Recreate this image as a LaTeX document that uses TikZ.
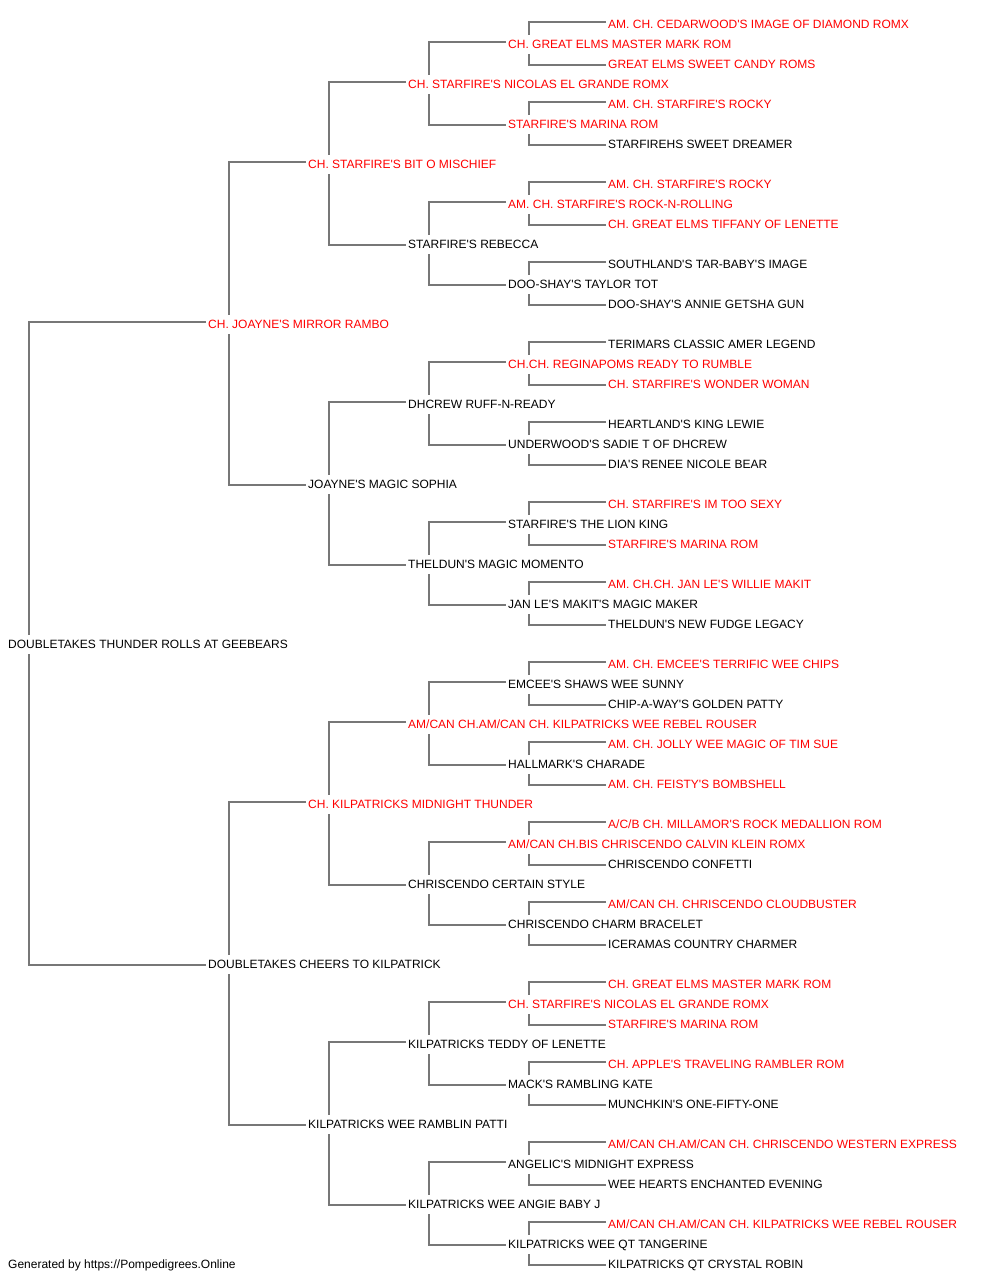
\documentclass[tikz,border=0pt]{standalone}
\usepackage{fontspec}
\setmainfont[Ligatures=TeXOff]{Liberation Sans}
\definecolor{pedred}{RGB}{255,0,0}
\definecolor{linegray}{RGB}{119,119,119}
\pgfdeclarelayer{background}
\pgfsetlayers{background,main}
\begin{document}
\begin{tikzpicture}[x=1pt,y=-1pt,
  nm/.style={anchor=base west,xshift=-1pt,yshift=-1pt,inner xsep=1pt,inner ysep=2pt,fill=white,
    text height=11pt,text depth=3.7pt,font=\fontsize{12pt}{14pt}\selectfont,text=black},
  nmr/.style={nm,text=pedred},
  conn/.style={draw=linegray,line width=1.6pt}]
\useasboundingbox (0,0) rectangle (1000,1280);
% generation 5 at x=608, gen4 508, gen3 408, gen2 308, gen1 208, gen0 8
\node[nmr] (n0) at (608,27.3) {AM. CH. CEDARWOOD'S IMAGE OF DIAMOND ROMX};
\node[nmr] (n1) at (508,47.3) {CH. GREAT ELMS MASTER MARK ROM};
\node[nmr] (n2) at (608,67.3) {GREAT ELMS SWEET CANDY ROMS};
\node[nmr] (n3) at (408,87.3) {CH. STARFIRE'S NICOLAS EL GRANDE ROMX};
\node[nmr] (n4) at (608,107.3) {AM. CH. STARFIRE'S ROCKY};
\node[nmr] (n5) at (508,127.3) {STARFIRE'S MARINA ROM};
\node[nm] (n6) at (608,147.3) {STARFIREHS SWEET DREAMER};
\node[nmr] (n7) at (308,167.3) {CH. STARFIRE'S BIT O MISCHIEF};
\node[nmr] (n8) at (608,187.3) {AM. CH. STARFIRE'S ROCKY};
\node[nmr] (n9) at (508,207.3) {AM. CH. STARFIRE'S ROCK-N-ROLLING};
\node[nmr] (n10) at (608,227.3) {CH. GREAT ELMS TIFFANY OF LENETTE};
\node[nm] (n11) at (408,247.3) {STARFIRE'S REBECCA};
\node[nm] (n12) at (608,267.3) {SOUTHLAND'S TAR-BABY'S IMAGE};
\node[nm] (n13) at (508,287.3) {DOO-SHAY'S TAYLOR TOT};
\node[nm] (n14) at (608,307.3) {DOO-SHAY'S ANNIE GETSHA GUN};
\node[nmr] (n15) at (208,327.3) {CH. JOAYNE'S MIRROR RAMBO};
\node[nm] (n16) at (608,347.3) {TERIMARS CLASSIC AMER LEGEND};
\node[nmr] (n17) at (508,367.3) {CH.CH. REGINAPOMS READY TO RUMBLE};
\node[nmr] (n18) at (608,387.3) {CH. STARFIRE'S WONDER WOMAN};
\node[nm] (n19) at (408,407.3) {DHCREW RUFF-N-READY};
\node[nm] (n20) at (608,427.3) {HEARTLAND'S KING LEWIE};
\node[nm] (n21) at (508,447.3) {UNDERWOOD'S SADIE T OF DHCREW};
\node[nm] (n22) at (608,467.3) {DIA'S RENEE NICOLE BEAR};
\node[nm] (n23) at (308,487.3) {JOAYNE'S MAGIC SOPHIA};
\node[nmr] (n24) at (608,507.3) {CH. STARFIRE'S IM TOO SEXY};
\node[nm] (n25) at (508,527.3) {STARFIRE'S THE LION KING};
\node[nmr] (n26) at (608,547.3) {STARFIRE'S MARINA ROM};
\node[nm] (n27) at (408,567.3) {THELDUN'S MAGIC MOMENTO};
\node[nmr] (n28) at (608,587.3) {AM. CH.CH. JAN LE'S WILLIE MAKIT};
\node[nm] (n29) at (508,607.3) {JAN LE'S MAKIT'S MAGIC MAKER};
\node[nm] (n30) at (608,627.3) {THELDUN'S NEW FUDGE LEGACY};
\node[nm] (n31) at (8,647.3) {DOUBLETAKES THUNDER ROLLS AT GEEBEARS};
\node[nmr] (n32) at (608,667.3) {AM. CH. EMCEE'S TERRIFIC WEE CHIPS};
\node[nm] (n33) at (508,687.3) {EMCEE'S SHAWS WEE SUNNY};
\node[nm] (n34) at (608,707.3) {CHIP-A-WAY'S GOLDEN PATTY};
\node[nmr] (n35) at (408,727.3) {AM/CAN CH.AM/CAN CH. KILPATRICKS WEE REBEL ROUSER};
\node[nmr] (n36) at (608,747.3) {AM. CH. JOLLY WEE MAGIC OF TIM SUE};
\node[nm] (n37) at (508,767.3) {HALLMARK'S CHARADE};
\node[nmr] (n38) at (608,787.3) {AM. CH. FEISTY'S BOMBSHELL};
\node[nmr] (n39) at (308,807.3) {CH. KILPATRICKS MIDNIGHT THUNDER};
\node[nmr] (n40) at (608,827.3) {A/C/B CH. MILLAMOR'S ROCK MEDALLION ROM};
\node[nmr] (n41) at (508,847.3) {AM/CAN CH.BIS CHRISCENDO CALVIN KLEIN ROMX};
\node[nm] (n42) at (608,867.3) {CHRISCENDO CONFETTI};
\node[nm] (n43) at (408,887.3) {CHRISCENDO CERTAIN STYLE};
\node[nmr] (n44) at (608,907.3) {AM/CAN CH. CHRISCENDO CLOUDBUSTER};
\node[nm] (n45) at (508,927.3) {CHRISCENDO CHARM BRACELET};
\node[nm] (n46) at (608,947.3) {ICERAMAS COUNTRY CHARMER};
\node[nm] (n47) at (208,967.3) {DOUBLETAKES CHEERS TO KILPATRICK};
\node[nmr] (n48) at (608,987.3) {CH. GREAT ELMS MASTER MARK ROM};
\node[nmr] (n49) at (508,1007.3) {CH. STARFIRE'S NICOLAS EL GRANDE ROMX};
\node[nmr] (n50) at (608,1027.3) {STARFIRE'S MARINA ROM};
\node[nm] (n51) at (408,1047.3) {KILPATRICKS TEDDY OF LENETTE};
\node[nmr] (n52) at (608,1067.3) {CH. APPLE'S TRAVELING RAMBLER ROM};
\node[nm] (n53) at (508,1087.3) {MACK'S RAMBLING KATE};
\node[nm] (n54) at (608,1107.3) {MUNCHKIN'S ONE-FIFTY-ONE};
\node[nm] (n55) at (308,1127.3) {KILPATRICKS WEE RAMBLIN PATTI};
\node[nmr] (n56) at (608,1147.3) {AM/CAN CH.AM/CAN CH. CHRISCENDO WESTERN EXPRESS};
\node[nm] (n57) at (508,1167.3) {ANGELIC'S MIDNIGHT EXPRESS};
\node[nm] (n58) at (608,1187.3) {WEE HEARTS ENCHANTED EVENING};
\node[nm] (n59) at (408,1207.3) {KILPATRICKS WEE ANGIE BABY J};
\node[nmr] (n60) at (608,1227.3) {AM/CAN CH.AM/CAN CH. KILPATRICKS WEE REBEL ROUSER};
\node[nm] (n61) at (508,1247.3) {KILPATRICKS WEE QT TANGERINE};
\node[nm] (n62) at (608,1267.3) {KILPATRICKS QT CRYSTAL ROBIN};
\node[nm] (footer) at (8,1267.3) {Generated by https://Pompedigrees.Online};
\begin{pgfonlayer}{background}
\foreach \c/\s/\d in {31/15/47,
  15/7/23, 47/39/55,
  7/3/11, 23/19/27, 39/35/43, 55/51/59,
  3/1/5, 11/9/13, 19/17/21, 27/25/29, 35/33/37, 43/41/45, 51/49/53, 59/57/61,
  1/0/2, 5/4/6, 9/8/10, 13/12/14, 17/16/18, 21/20/22, 25/24/26, 29/28/30,
  33/32/34, 37/36/38, 41/40/42, 45/44/46, 49/48/50, 53/52/54, 57/56/58, 61/60/62}
  \draw[conn] ([xshift=-1pt,yshift=2.5pt]n\s.west) -| ([xshift=22pt]n\c.west)
    |- ([xshift=-1pt,yshift=-0.5pt]n\d.west);
\end{pgfonlayer}
\end{tikzpicture}
\end{document}
